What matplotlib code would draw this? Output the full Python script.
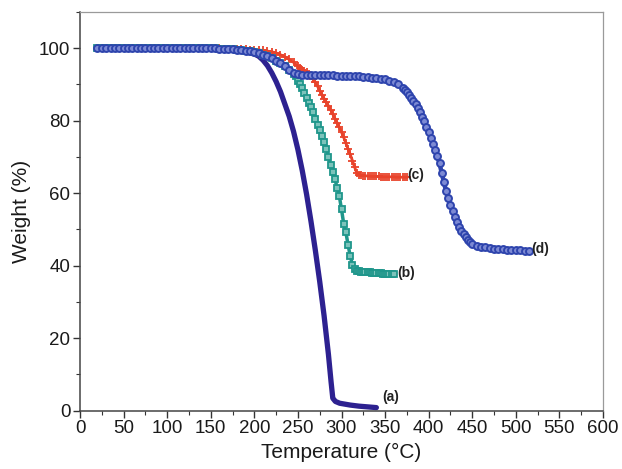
import matplotlib
matplotlib.use("Agg")
import matplotlib.pyplot as plt
from matplotlib.ticker import MultipleLocator

plt.rcParams['font.family'] = ['Liberation Sans', 'DejaVu Sans']

# ---- data ----
temp_a = [20, 50, 100, 150, 160, 170, 180, 190, 200, 205, 210, 215, 220, 225, 230, 235,
          240, 245, 250, 255, 260, 265, 270, 275, 280, 285, 288, 290, 293, 298, 310,
          320, 330, 340]
weight_a = [100, 100, 100, 100, 99.9, 99.7, 99.4, 99.0, 98.4, 97.8, 96.7, 95.2, 93.2,
            90.8, 88.0, 84.6, 81.2, 77.0, 72.0, 66.2, 59.6, 52.2, 44.2, 35.6, 26.2,
            15.5, 8.0, 3.4, 2.5, 2.0, 1.5, 1.2, 1.0, 0.8]

temp_b = [20, 25, 30, 35, 40, 45, 50, 55, 60, 65, 70, 75, 80, 85, 90, 95, 100, 105, 110,
          115, 120, 125, 130, 135, 140, 145, 150, 155, 160, 165, 170, 175, 180, 185,
          190, 195, 200, 205, 210, 215, 220, 225, 230, 235, 240, 245, 247.5, 250, 252.5,
          255, 257.5, 260, 262.5, 265, 267.5, 270, 272.5, 275, 277.5, 280, 282.5, 285,
          287.5, 290, 292.5, 295, 297.5, 300, 302.5, 305, 307.5, 310, 312.5, 315, 317.5,
          320, 322.5, 325, 327.5, 330, 332.5, 335, 337.5, 340, 342.5, 345, 347.5, 350,
          352.5, 355, 357.5, 360]
weight_b = [100, 100, 100, 100, 100, 100, 100, 100, 100, 100, 100, 100, 100, 100, 100,
            100, 100, 100, 100, 100, 100, 100, 100, 100, 100, 100, 100, 100, 99.9, 99.9,
            99.8, 99.7, 99.6, 99.5, 99.3, 99.1, 98.9, 98.6, 98.2, 97.8, 97.2, 96.6, 95.8,
            95.0, 94.0, 93.0, 92.2, 91.0, 90.2, 89.0, 87.6, 86.3, 85.0, 83.9, 82.4, 80.5,
            78.8, 77.3, 75.9, 74.2, 72.3, 70.0, 67.8, 65.8, 63.8, 61.5, 59.2, 55.5, 51.6,
            49.2, 45.8, 42.6, 40.3, 39.0, 38.6, 38.4, 38.3, 38.2, 38.2, 38.1, 38.1, 38.0,
            38.0, 37.9, 37.9, 37.9, 37.8, 37.8, 37.8, 37.8, 37.8, 37.8]

temp_c = [20, 25, 30, 35, 40, 45, 50, 55, 60, 65, 70, 75, 80, 85, 90, 95, 100, 105, 110,
          115, 120, 125, 130, 135, 140, 145, 150, 155, 160, 165, 170, 175, 180, 185,
          190, 195, 200, 205, 210, 215, 220, 225, 230, 235, 240, 245, 250, 252.5, 255,
          257.5, 260, 262.5, 265, 267.5, 270, 272.5, 275, 277.5, 280, 282.5, 285, 287.5,
          290, 292.5, 295, 297.5, 300, 302.5, 305, 307.5, 310, 312.5, 315, 317.5, 320,
          322.5, 325, 327.5, 330, 332.5, 335, 337.5, 340, 342.5, 345, 347.5, 350, 352.5,
          355, 357.5, 360, 362.5, 365, 367.5, 370, 372.5, 375]
weight_c = [100, 100, 100, 100, 100, 100, 100, 100, 100, 100, 100, 100, 100, 100, 100,
            100, 100, 100, 100, 100, 100, 100, 100, 100, 100, 100, 100, 100, 100, 99.9,
            99.9, 99.8, 99.8, 99.7, 99.7, 99.6, 99.6, 99.5, 99.4, 99.2, 99.0, 98.7, 98.2,
            97.6, 96.9, 96.1, 95.1, 94.6, 94.1, 93.8, 93.5, 93.0, 92.4, 91.5, 90.6, 89.5,
            88.3, 87.2, 86.1, 85.1, 84.1, 83.0, 81.8, 80.6, 79.4, 78.2, 76.8, 75.4, 73.8,
            72.2, 70.7, 69.0, 67.2, 65.6, 65.0, 64.9, 64.8, 64.8, 64.7, 64.7, 64.6, 64.6,
            64.6, 64.6, 64.5, 64.5, 64.5, 64.5, 64.5, 64.5, 64.5, 64.4, 64.4, 64.4, 64.4,
            64.4, 64.4]

temp_d = [20, 25, 30, 35, 40, 45, 50, 55, 60, 65, 70, 75, 80, 85, 90, 95, 100, 105, 110,
          115, 120, 125, 130, 135, 140, 145, 150, 155, 160, 165, 170, 175, 180, 185,
          190, 195, 200, 205, 210, 215, 220, 225, 230, 235, 240, 245, 250, 255, 260, 265,
          270, 275, 280, 285, 290, 295, 300, 305, 310, 315, 320, 325, 330, 335, 340, 345,
          350, 355, 360, 365, 370, 372.5, 375, 377.5, 380, 382.5, 385, 387.5, 390, 392.5,
          395, 397.5, 400, 402.5, 405, 407.5, 410, 412.5, 415, 417.5, 420, 422.5, 425,
          427.5, 430, 432.5, 435, 437.5, 440, 442.5, 445, 447.5, 450, 455, 460, 465, 470,
          475, 480, 485, 490, 495, 500, 505, 510, 515]
weight_d = [100, 100, 100, 100, 100, 100, 100, 100, 100, 100, 100, 100, 100, 100, 100,
            100, 100, 100, 100, 100, 100, 100, 100, 100, 100, 100, 100, 100, 99.9, 99.9,
            99.8, 99.7, 99.6, 99.5, 99.3, 99.1, 98.9, 98.6, 98.2, 97.8, 97.2, 96.6, 95.8,
            95.0, 94.0, 93.2, 92.8, 92.7, 92.7, 92.6, 92.6, 92.6, 92.5, 92.5, 92.5, 92.4,
            92.4, 92.3, 92.3, 92.2, 92.2, 92.1, 92.0, 91.9, 91.8, 91.6, 91.4, 91.0, 90.6,
            90.0, 89.0, 88.4, 87.8, 87.1, 86.3, 85.4, 84.5, 83.4, 82.3, 81.1, 79.8, 78.2,
            76.8, 75.3, 73.6, 72.0, 70.2, 68.2, 65.5, 63.0, 60.5, 58.6, 56.8, 55.1, 53.5,
            52.0, 50.6, 49.5, 48.6, 47.8, 47.0, 46.5, 46.0, 45.5, 45.2, 45.0, 44.8, 44.7,
            44.6, 44.5, 44.4, 44.3, 44.3, 44.2, 44.1, 44.0]

labels = ['(a)', '(b)', '(c)', '(d)']
label_pos_t = [347, 364, 376, 518]
label_pos_w = [3.6, 38.0, 65.0, 44.6]

col_a = '#2d2190'
col_b = '#1f968b'
col_c = '#e8432b'
col_d = '#2e44ad'

# ---- figure ----
fig = plt.figure(figsize=(6.22, 4.69), dpi=100)
ax = fig.add_axes([80 / 622, 1 - 410.5 / 469, (603 - 80) / 622, (410.5 - 12) / 469])

ax.plot(temp_a, weight_a, color=col_a, lw=3.8, solid_capstyle='round', zorder=2)
ax.plot(temp_c, weight_c, color=col_c, lw=2.0, marker='+', ms=5.5, mew=1.3, zorder=3)
ax.plot(temp_b, weight_b, color=col_b, lw=2.5, marker='s', ms=4.8, mew=1.3,
        mfc='#7cc3bb', mec=col_b, zorder=4)
ax.plot(temp_d, weight_d, color=col_d, lw=3.2, marker='o', ms=5.0, mew=1.4,
        mfc='#7d8ad4', mec=col_d, zorder=5)

for lab, t, w in zip(labels, label_pos_t, label_pos_w):
    ax.text(t, w, lab, fontsize=10, fontweight='bold', ha='left', va='center',
            color='#222222', zorder=6)

ax.set_xlim(0, 600)
ax.set_ylim(0, 110)
ax.xaxis.set_major_locator(MultipleLocator(50))
ax.xaxis.set_minor_locator(MultipleLocator(25))
ax.yaxis.set_minor_locator(MultipleLocator(10))
ax.set_yticks([0, 20, 40, 60, 80, 100])

ax.tick_params(axis='both', which='major', direction='out', length=5, width=1,
               labelsize=13.5, colors='#333333', labelcolor='#1a1a1a', pad=2)
ax.tick_params(axis='both', which='minor', direction='out', length=3, width=0.8,
               colors='#333333')
ax.tick_params(top=False, right=False, which='both')

for side in ['left', 'bottom']:
    ax.spines[side].set_color('#444444')
    ax.spines[side].set_linewidth(1.1)
for side in ['top', 'right']:
    ax.spines[side].set_color('#9a9a9a')
    ax.spines[side].set_linewidth(0.9)

ax.set_xlabel('Temperature (\u00b0C)', fontsize=15, color='#1a1a1a', labelpad=4)
ax.set_ylabel('Weight (%)', fontsize=15, color='#1a1a1a', labelpad=6)

fig.savefig('out.png', dpi=100)
